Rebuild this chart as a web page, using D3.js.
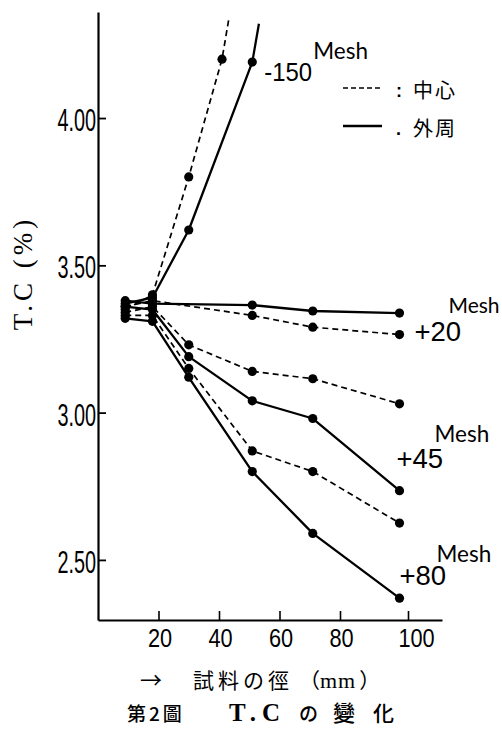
<!DOCTYPE html>
<html>
<head>
<meta charset="utf-8">
<script src="https://cdn.jsdelivr.net/npm/d3@7"></script>
<style>
  html, body { margin: 0; padding: 0; background: #fff; }
  svg { display: block; }
</style>
</head>
<body>
<svg id="chart" width="502" height="729"></svg>
<script>
// Sample diameters (mm) at which T.C was measured
const diameters   = [9, 18, 30, 51, 71, 97.5];
const diameters20 = [9, 18, 51, 71, 97.5];
const diam150Center = [9, 18, 30, 41];
const diam150Outer  = [9, 18, 30, 51];

// T.C (%) — centre (中心) and periphery (外周) for each mesh size
const tc150Center = [3.35, 3.40, 3.80, 4.20];
const tc150Outer  = [3.37, 3.39, 3.62, 4.19];
const tc20Center  = [3.36, 3.38, 3.33, 3.29, 3.265];
const tc20Outer   = [3.38, 3.37, 3.365, 3.345, 3.338];
const tc45Center  = [3.34, 3.36, 3.23, 3.14, 3.115, 3.03];
const tc45Outer   = [3.36, 3.35, 3.19, 3.04, 2.98, 2.735];
const tc80Center  = [3.33, 3.33, 3.15, 2.87, 2.80, 2.625];
const tc80Outer   = [3.32, 3.31, 3.12, 2.80, 2.59, 2.37];

// the -150 mesh curves run on past the top of the frame
const tail150Center = [43.3, 4.34];
const tail150Outer  = [53.2, 4.32];

const meshLabels = ["-150", "+20", "+45", "+80"];
const yTicks = [2.50, 3.00, 3.50, 4.00];
const xTicks = [20, 40, 60, 80, 100];

const zip = (xs, ys) => xs.map((d, i) => [d, ys[i]]);

const series = [
  { mesh: "-150", kind: "center", pts: zip(diam150Center, tc150Center), tail: tail150Center },
  { mesh: "-150", kind: "outer",  pts: zip(diam150Outer,  tc150Outer),  tail: tail150Outer },
  { mesh: "+20",  kind: "center", pts: zip(diameters20, tc20Center) },
  { mesh: "+20",  kind: "outer",  pts: zip(diameters20, tc20Outer) },
  { mesh: "+45",  kind: "center", pts: zip(diameters, tc45Center) },
  { mesh: "+45",  kind: "outer",  pts: zip(diameters, tc45Outer) },
  { mesh: "+80",  kind: "center", pts: zip(diameters, tc80Center) },
  { mesh: "+80",  kind: "outer",  pts: zip(diameters, tc80Outer) }
];

const svg = d3.select("#chart");

// hand-ruled axis: the 100 mm tick sits a little wider than the others
const x = d3.scaleLinear().domain([0, 80, 110]).range([98, 340, 442]);
const y = d3.scaleLinear().domain([2.296, 4.36]).range([620, 12]);

const ink = "#000";

// ---- axes ----
const yAxis = d3.axisLeft(y).tickValues(yTicks).tickFormat(d3.format(".2f"))
  .tickSizeInner(-8).tickSizeOuter(0).tickPadding(0);
const gy = svg.append("g").attr("transform", `translate(${x(0)},0)`).call(yAxis);
gy.select(".domain").attr("stroke", ink).attr("stroke-width", 2.2);
gy.selectAll(".tick line").attr("stroke", ink).attr("stroke-width", 1.8);
gy.selectAll(".tick text")
  .attr("x", null).attr("dy", null)
  .attr("fill", ink)
  .attr("font-family", "'Liberation Sans', Arial, sans-serif")
  .attr("font-size", 31)
  .attr("text-anchor", "end")
  .attr("transform", "translate(-2,12.5) scale(0.64,1)");

const xAxis = d3.axisBottom(x).tickValues(xTicks).tickFormat(d3.format("d"))
  .tickSizeInner(-9).tickSizeOuter(0).tickPadding(0);
const gx = svg.append("g").attr("transform", `translate(0,${y(2.296)})`).call(xAxis);
gx.select(".domain").attr("stroke", ink).attr("stroke-width", 2.2);
gx.selectAll(".tick line").attr("stroke", ink).attr("stroke-width", 1.6);
gx.selectAll(".tick text")
  .attr("y", null).attr("dy", null)
  .attr("fill", ink)
  .attr("font-family", "'Liberation Sans', Arial, sans-serif")
  .attr("font-size", 26.5)
  .attr("text-anchor", "middle")
  .attr("transform", (d) => `translate(${d === 100 ? 8 : 1},27) scale(0.82,1)`);

// ---- data lines ----
const line = d3.line().x(d => x(d[0])).y(d => y(d[1]));
const plot = svg.append("g");

series.forEach(s => {
  const path = s.tail ? s.pts.concat([s.tail]) : s.pts;
  plot.append("path")
    .attr("d", line(path))
    .attr("fill", "none")
    .attr("stroke", ink)
    .attr("stroke-width", s.kind === "outer" ? 2.3 : 1.7)
    .attr("stroke-dasharray", s.kind === "outer" ? null : "6,4")
    .attr("stroke-linejoin", "round");
});

series.forEach(s => {
  plot.selectAll(null).data(s.pts).enter().append("circle")
    .attr("cx", d => x(d[0]))
    .attr("cy", d => y(d[1]))
    .attr("r", 4.6)
    .attr("fill", ink);
});

// ---- mesh labels beside the curves ----
const lastPt = (mesh, kind) => {
  const s = series.find(d => d.mesh === mesh && d.kind === kind);
  const p = s.pts[s.pts.length - 1];
  return [x(p[0]), y(p[1])];
};
const labelAnchor = {
  "-150": (() => { const p = lastPt("-150", "outer");  return [p[0] + 12, p[1] + 19]; })(),
  "+20":  (() => { const p = lastPt("+20", "center");  return [p[0] + 15, p[1] + 6]; })(),
  "+45":  (() => { const p = lastPt("+45", "outer");   return [p[0] - 3,  p[1] - 23]; })(),
  "+80":  (() => { const p = lastPt("+80", "outer");   return [p[0] + 0,  p[1] - 13]; })()
};
const meshOffset = { "-150": [49, -22], "+20": [34, -28], "+45": [38, -26], "+80": [37, -23] };

meshLabels.forEach(m => {
  const [lx, ly] = labelAnchor[m];
  const g = svg.append("g").attr("transform", `translate(${lx},${ly})`);
  g.append("text")
    .attr("font-family", "'Liberation Sans', Arial, sans-serif")
    .attr("font-size", m === "-150" ? 26 : 27.5)
    .attr("fill", ink)
    .attr("transform", m === "-150" ? "scale(0.92,1)" : null)
    .text(m);
  g.append("text")
    .attr("x", meshOffset[m][0]).attr("y", meshOffset[m][1])
    .attr("font-family", "Lato, 'Open Sans', sans-serif")
    .attr("font-size", m === "+20" ? 21 : 22.5)
    .attr("fill", ink)
    .text("Mesh");
});

// ---- legend ----
const legend = svg.append("g");
const legendRows = [
  { kind: "center", label: "中心", sep: ":", yLine: 88 },
  { kind: "outer",  label: "外周", sep: ".", yLine: 126 }
];
legendRows.forEach(r => {
  legend.append("line")
    .attr("x1", 343).attr("x2", 382).attr("y1", r.yLine).attr("y2", r.yLine)
    .attr("stroke", ink)
    .attr("stroke-width", r.kind === "outer" ? 2.6 : 1.5)
    .attr("stroke-dasharray", r.kind === "outer" ? null : "5,3");
  legend.append("text")
    .attr("x", 396).attr("y", r.yLine + 9)
    .attr("font-family", "'Liberation Sans', sans-serif")
    .attr("font-size", 18).attr("font-weight", "bold")
    .attr("fill", ink)
    .text(r.sep);
  legend.append("text")
    .attr("x", 413).attr("y", r.yLine + 10)
    .attr("font-family", "'Noto Sans CJK JP', sans-serif")
    .attr("font-size", 20)
    .attr("letter-spacing", 2)
    .attr("fill", ink)
    .text(r.label);
});

// ---- y axis title ----
svg.append("text")
  .attr("transform", "translate(32,273) rotate(-90)")
  .attr("text-anchor", "middle")
  .attr("font-family", "'Liberation Serif', 'DejaVu Serif', serif")
  .attr("font-size", 27)
  .attr("letter-spacing", 4)
  .attr("fill", ink)
  .text("T.C (%)");

// ---- x axis title ----
const xt = svg.append("g").attr("fill", ink);
xt.append("text")
  .attr("x", 140).attr("y", 688)
  .attr("font-family", "'Noto Sans CJK JP', sans-serif")
  .attr("font-size", 22)
  .text("→");
xt.append("text")
  .attr("x", 193).attr("y", 688)
  .attr("font-family", "'Noto Sans CJK JP', sans-serif")
  .attr("font-size", 21).attr("letter-spacing", 4)
  .text("試料の徑");
const unit = xt.append("text")
  .attr("x", 299).attr("y", 688)
  .attr("font-family", "'Noto Sans CJK JP', sans-serif")
  .attr("font-size", 21);
unit.append("tspan").text("（");
unit.append("tspan").attr("font-family", "'Liberation Serif', serif").attr("font-size", 22).attr("letter-spacing", 1).text("mm");
unit.append("tspan").attr("dx", 3).text("）");

// ---- caption ----
const cap = svg.append("g").attr("fill", ink);
cap.append("text")
  .attr("x", 127).attr("y", 721)
  .attr("font-family", "'Noto Sans CJK JP', sans-serif")
  .attr("font-size", 19).attr("font-weight", 500).attr("letter-spacing", 3)
  .text("第2圖");
cap.append("text")
  .attr("x", 229).attr("y", 721)
  .attr("font-family", "'Liberation Serif', serif")
  .attr("font-size", 25).attr("font-weight", "bold").attr("letter-spacing", 6)
  .text("T.C");
cap.append("text")
  .attr("x", 299).attr("y", 721)
  .attr("font-family", "'Noto Sans CJK JP', sans-serif")
  .attr("font-size", 19).attr("font-weight", 500)
  .text("の");
cap.append("text")
  .attr("x", 333).attr("y", 721)
  .attr("font-family", "'Noto Sans CJK JP', sans-serif")
  .attr("font-size", 22).attr("font-weight", 500)
  .text("變");
cap.append("text")
  .attr("x", 373).attr("y", 721)
  .attr("font-family", "'Noto Sans CJK JP', sans-serif")
  .attr("font-size", 21).attr("font-weight", 500)
  .text("化");
</script>
</body>
</html>
